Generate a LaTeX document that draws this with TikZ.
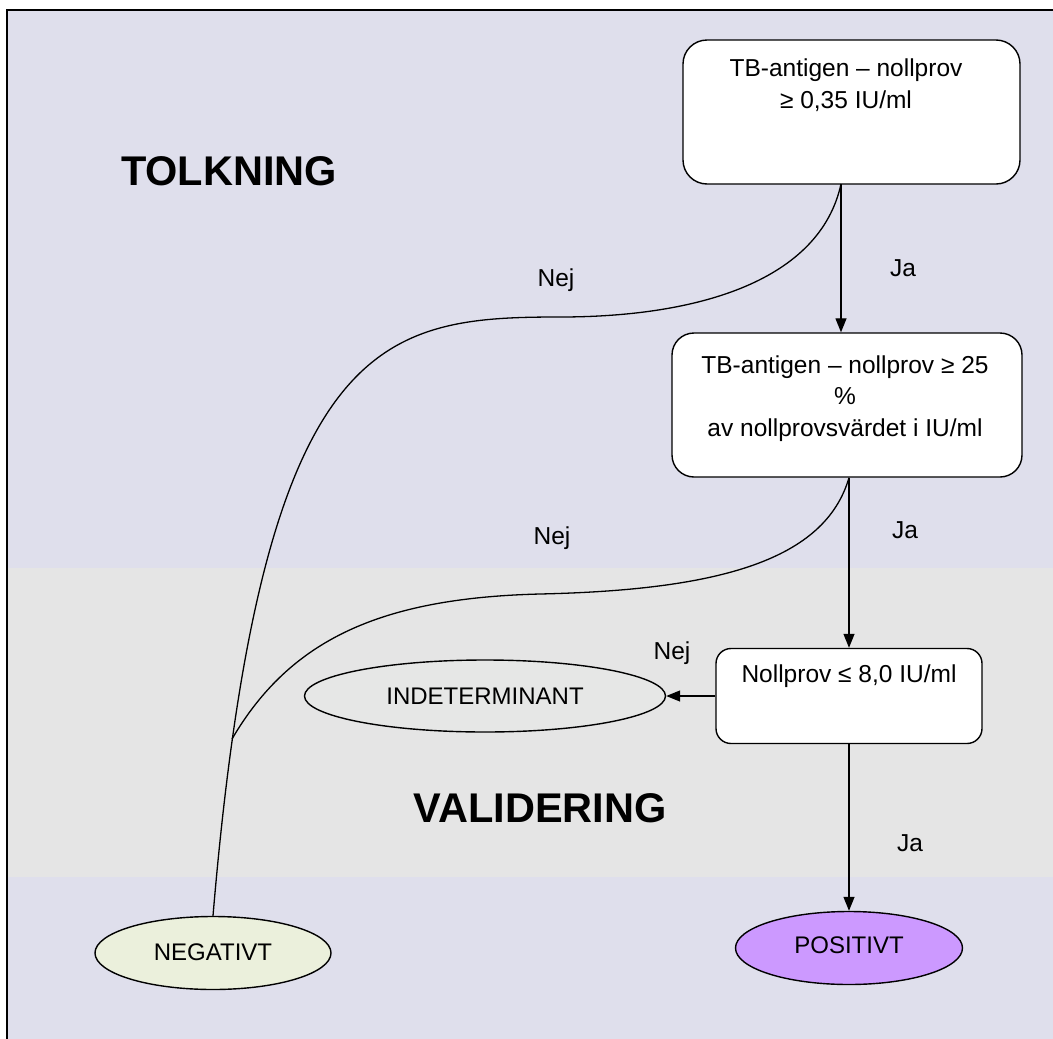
\documentclass[tikz,border=0pt]{standalone}
\usepackage{fontspec}
\setmainfont{Liberation Sans}
\usetikzlibrary{arrows.meta,shapes.geometric,calc}
\definecolor{lav}{RGB}{223,223,236}
\definecolor{grayband}{RGB}{229,229,229}
\definecolor{indfill}{RGB}{230,231,230}
\definecolor{negfill}{RGB}{235,240,220}
\definecolor{posfill}{RGB}{204,153,255}
\begin{document}
\begin{tikzpicture}[x=1pt,y=-1pt,
  box/.style={draw=black, line width=1.4pt, fill=white, rounded corners=#1, inner sep=0pt},
  box/.default=22pt,
  btext/.style={font=\fontsize{24.5}{32}\selectfont, align=center, anchor=north, inner sep=0pt},
  oval/.style={ellipse, draw=black, line width=1.4pt, inner sep=0pt, font=\fontsize{24}{28}\selectfont},
  lbl/.style={font=\fontsize{24.5}{28}\selectfont, inner sep=0pt},
  head/.style={font=\bfseries\fontsize{41.5}{48}\selectfont, inner sep=0pt},
  conn/.style={line width=1.3pt},
  arr/.style={conn, -{Triangle[length=14pt,width=11pt]}}
]
\useasboundingbox (0,0) rectangle (1053,1039);
% background bands
\fill[white] (0,0) rectangle (1053,1039);
\fill[lav] (7,10) rectangle (1053,568);
\fill[grayband] (7,568) rectangle (1053,877);
\fill[lav] (7,877) rectangle (1053,1039);
\draw[line width=2pt] (7,1039) -- (7,10) -- (1053,10);

% headings
\node[head] (tolk) at (229,171) {TOLKNING};
\node[head] (vali) at (540,808) {VALIDERING};

% boxes
\node[box=24pt, minimum width=337pt, minimum height=144pt] (b1) at (851.5,112) {};
\coordinate (o1) at (841,184);
\node[btext] (t1) at (846,59) {TB-antigen – nollprov\\≥ 0,35 IU/ml};
\node[box=22pt, minimum width=350pt, minimum height=144pt] (b2) at (847,405) {};
\node[btext, font=\fontsize{24.5}{31.5}\selectfont] (t2) at (845,355.5) {TB-antigen – nollprov ≥ 25\\\%\\av nollprovsvärdet i IU/ml};
\node[box=15pt, minimum width=266pt, minimum height=95pt] (b3) at (849,696) {};
\node[btext] (t3) at (849,664.5) {Nollprov ≤ 8,0 IU/ml};

% ovals
\node[oval, fill=indfill, minimum width=361pt, minimum height=72pt] (ind) at (485,696) {INDETERMINANT};
\node[oval, fill=negfill, minimum width=236pt, minimum height=73pt] (neg) at (213,953) {\raisebox{2pt}{NEGATIVT}};
\node[oval, fill=posfill, minimum width=227pt, minimum height=73pt] (pos) at (849,948) {\raisebox{6pt}{POSITIVT}};

% connectors
\coordinate (s2) at (b3.north |- b2.south);
\coordinate (jn) at (232,739);
\draw[arr] (o1) -- (o1 |- b2.north);
\draw[arr] (s2) -- (b3.north);
\draw[arr] (b3.south) -- (pos.north);
\draw[arr] (b3.west) -- (ind.east);
\draw[conn] (o1) .. controls (820,280) and (700,317) .. (560,317)
   .. controls (380,317) and (262,335) .. (neg.north);
\draw[conn] (s2) .. controls (825,560) and (720,590) .. (540,594)
   .. controls (380,598) and (290,640) .. (jn);

% labels
\node[lbl] (n1) at (556,280) {Nej};
\node[lbl] (j1) at (903,268) {Ja};
\node[lbl] (n2) at (552,538) {Nej};
\node[lbl] (j2) at (905,530) {Ja};
\node[lbl] (n3) at (672,653) {Nej};
\node[lbl] (j3) at (910,843) {Ja};
\end{tikzpicture}
\end{document}
